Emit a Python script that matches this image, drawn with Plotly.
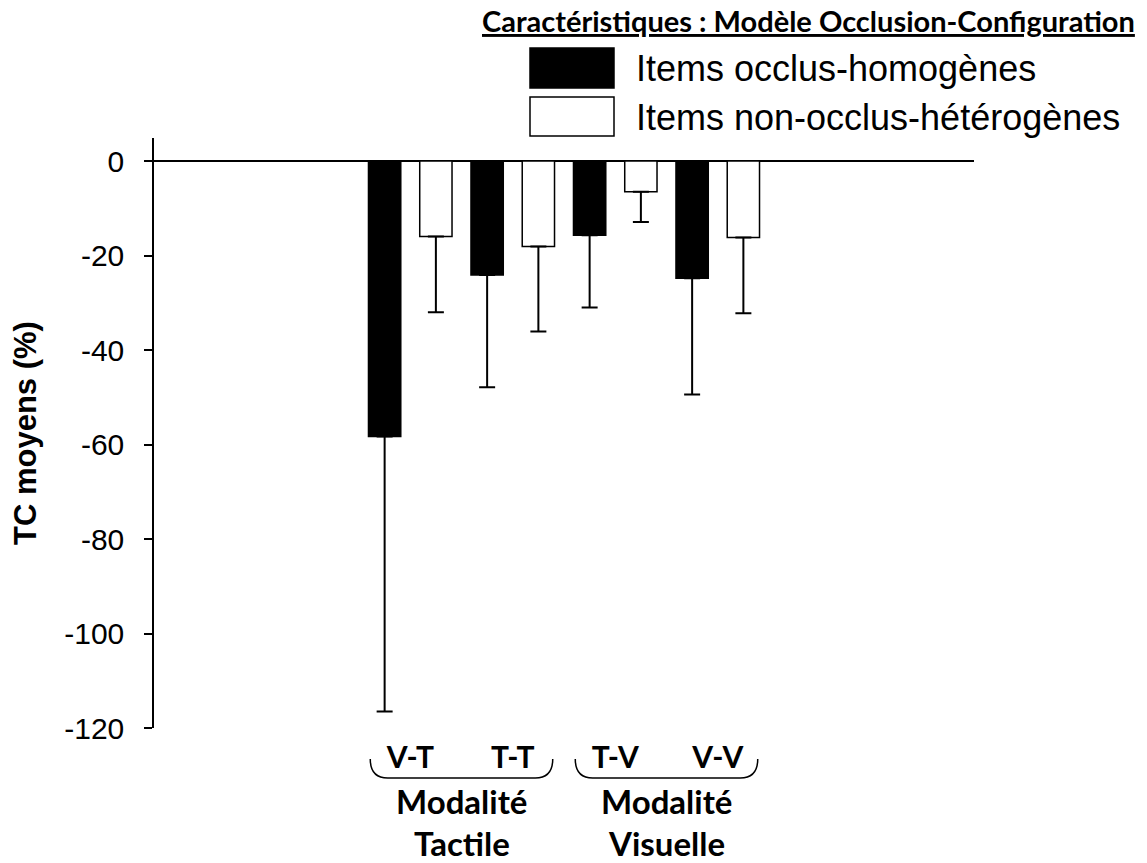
import plotly.graph_objects as go

# ---------------- data ----------------
categories = ["V-T", "T-T", "T-V", "V-V"]
occlus_homogenes = [-58.3, -24.1, -15.7, -24.8]
occlus_homogenes_err = [58.2, 23.8, 15.3, 24.6]
non_occlus_heterogenes = [-16.0, -18.1, -6.5, -16.2]
non_occlus_heterogenes_err = [16.0, 18.0, 6.4, 16.0]
modality_labels = ["Modalité<br>Tactile", "Modalité<br>Visuelle"]
y_ticks = [0, -20, -40, -60, -80, -100, -120]
series_names = ["Items occlus-homogènes", "Items non-occlus-hétérogènes"]
legend_title = "Caractéristiques : Modèle Occlusion-Configuration"
y_title = "TC moyens (%)"

# ---------------- layout helpers ----------------
W, H = 1147, 863
L, R, T, B = 154, 173, 138, 135
pw, ph = W - L - R, H - T - B


def px_x(px):
    return (px - L) / pw


def px_y(py):
    return (H - B - py) / ph


first_slot = 2
xpos = [first_slot + i for i in range(len(categories))]

CAL = "Lato, Carlito, Calibri, sans-serif"
ARIAL = "Liberation Sans, Arial, Helvetica, sans-serif"

fig = go.Figure()
fig.add_trace(go.Bar(
    x=xpos, y=occlus_homogenes, name=series_names[0], showlegend=False,
    marker=dict(color="black", line=dict(color="black", width=1.5)),
    error_y=dict(type="data", symmetric=False, array=[0] * len(categories),
                 arrayminus=occlus_homogenes_err, color="black",
                 thickness=2, width=8),
))
fig.add_trace(go.Bar(
    x=xpos, y=non_occlus_heterogenes, name=series_names[1], showlegend=False,
    marker=dict(color="white", line=dict(color="black", width=1.5)),
    error_y=dict(type="data", symmetric=False, array=[0] * len(categories),
                 arrayminus=non_occlus_heterogenes_err, color="black",
                 thickness=2, width=8),
))

shapes = []
annotations = []

# braces under category pairs
for k in range(2):
    a = xpos[2 * k] - 0.39
    b = xpos[2 * k + 1] + 0.39
    r = 0.17
    ytop, ybot = px_y(759), px_y(778)
    path = (f"M {a},{ytop} Q {a},{ybot} {a + r},{ybot} "
            f"L {b - r},{ybot} Q {b},{ybot} {b},{ytop}")
    shapes.append(dict(type="path", path=path, xref="x", yref="paper",
                       line=dict(color="black", width=1.5)))
    xm = (xpos[2 * k] + xpos[2 * k + 1]) / 2
    line1, line2 = modality_labels[k].split("<br>")
    annotations.append(dict(x=xm, y=px_y(801), xref="x", yref="paper",
                            text=line1, showarrow=False, xanchor="center",
                            yanchor="middle",
                            font=dict(family=CAL, size=33, color="black",
                                      weight=700)))
    annotations.append(dict(x=xm, y=px_y(843), xref="x", yref="paper",
                            text=line2, showarrow=False, xanchor="center",
                            yanchor="middle",
                            font=dict(family=CAL, size=33, color="black",
                                      weight=700)))

# custom legend
legend_rects = [(48, 88, "black"), (97, 136, "white")]
for (y0, y1, col), name in zip(legend_rects, series_names):
    shapes.append(dict(type="rect", xref="paper", yref="paper",
                       x0=px_x(530), x1=px_x(614), y0=px_y(y1), y1=px_y(y0),
                       fillcolor=col, line=dict(color="black", width=1.5)))
    annotations.append(dict(x=px_x(634), y=px_y((y0 + y1) / 2 + 1),
                            xref="paper", yref="paper", text=name,
                            showarrow=False, xanchor="left", yanchor="middle",
                            font=dict(family=ARIAL, size=36, color="black")))

annotations.append(dict(x=px_x(1137), y=px_y(21), xref="paper", yref="paper",
                        text=legend_title, showarrow=False, xanchor="right",
                        yanchor="middle",
                        font=dict(family=CAL, size=29, color="black",
                                  weight=700, lineposition="under")))

# y-axis title
annotations.append(dict(x=px_x(25), y=0.5, xref="paper", yref="paper",
                        text=y_title, showarrow=False, textangle=-90,
                        xanchor="center", yanchor="middle",
                        font=dict(family=ARIAL, size=31, color="black",
                                  weight=700)))

fig.update_layout(
    width=W, height=H,
    margin=dict(l=L, r=R, t=T, b=B, pad=0),
    paper_bgcolor="white", plot_bgcolor="white",
    barmode="group", bargap=0.0, bargroupgap=0.37,
    shapes=shapes, annotations=annotations,
    xaxis=dict(range=[-0.5, 7.5], tickmode="array", tickvals=xpos,
               ticktext=categories, showgrid=False, zeroline=False,
               showline=False, ticks="", ticklabelstandoff=9,
               tickfont=dict(family=CAL, size=30, color="black", weight=700)),
    yaxis=dict(range=[-120, 4.87], tickmode="array", tickvals=y_ticks,
               ticktext=[str(v) for v in y_ticks],
               showgrid=False, showline=True, linecolor="black", linewidth=1.5,
               ticks="outside", ticklen=8, tickwidth=1.5, tickcolor="black",
               zeroline=True, zerolinecolor="black", zerolinewidth=1.5,
               ticklabelstandoff=14,
               tickfont=dict(family=ARIAL, size=30, color="black")),
)

fig.write_html("out.html")
